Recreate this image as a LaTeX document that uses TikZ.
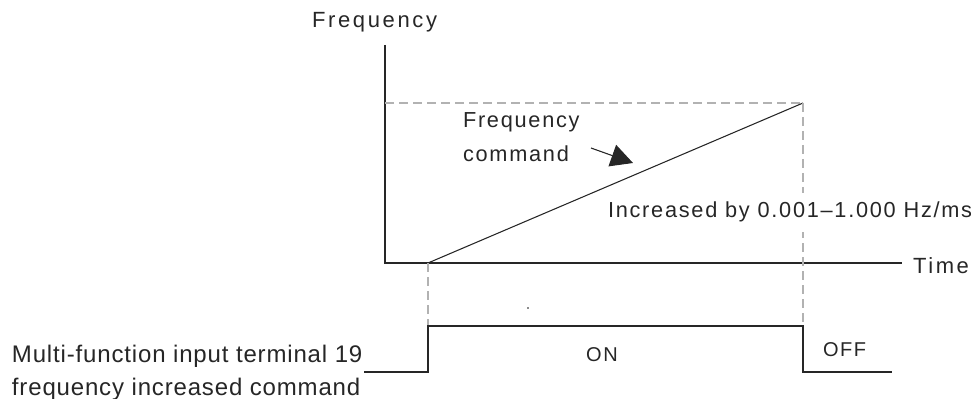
\documentclass[tikz,border=0pt]{standalone}
\usepackage{fontspec}
\setmainfont{Liberation Sans}
\newfontfamily\axisfont{Liberation Sans}[LetterSpace=12]
\newfontfamily\notefont{Liberation Sans}[LetterSpace=8]
\newfontfamily\sigfont{Liberation Sans}[LetterSpace=3.5]
\usepackage{tikz}
\usetikzlibrary{calc}
\usetikzlibrary{arrows.meta}
\usetikzlibrary{positioning}

\begin{document}
\begin{tikzpicture}[x=0.75pt,y=-0.75pt]
    \tikzstyle{every node}=[inner sep=0pt,outer sep=0pt,text=black!85]
    \tikzstyle{axis}=[line width=2pt,line join=miter,draw=black!85]
    \tikzstyle{guide}=[draw=black!30,line width=0.8pt,dash pattern=on 7pt off 3.5pt]
    \tikzstyle{sig}=[line width=0.9pt,draw=black!85]

   \useasboundingbox (0,0) rectangle (971,399);

   % axes
   \coordinate (o) at (385,263);
   \coordinate (ytop) at (385,45);
   \coordinate (xend) at (902,263);
   \draw[axis] (ytop) -- (o) -- (xend);

   \node[font=\axisfont\fontsize{16.5}{20}\selectfont,anchor=base west] (flab) at (312,28) {Frequency};
   \node[font=\axisfont\fontsize{16.5}{20}\selectfont,anchor=base west] (tlab) at (913,273) {Time};

   % ramp of the frequency command
   \coordinate (t1) at (428,263);
   \coordinate (t2) at (803,103);
   \coordinate (fmax) at (385,103);
   \draw[guide] (fmax) -- (t2);
   \draw[line width=0.8pt,draw=black!85] (t1) -- (t2);

   \node[font=\notefont\fontsize{16.3}{25}\selectfont,align=left,anchor=north west] (cmd) at (463,113) {Frequency\\command};
   \coordinate (atail) at (591,148);
   \coordinate (ahead) at (633,163);
   \draw[-{Triangle[length=16.5pt,width=17pt]},line width=0.8pt,draw=black!85,fill=black!85] (atail) -- (ahead);

   % terminal signal
   \coordinate (lo1) at (364,372);
   \coordinate (hi1) at (428,326);
   \coordinate (hi2) at (803,326);
   \coordinate (lo2) at (892,372);
   \draw[guide] (t1) -- (hi1);
   \draw[guide] (t2) -- (hi2);
   \draw[sig] (lo1) -| (hi1) -- (hi2) |- (lo2);
   \fill[black!45] (527,307) rectangle (529,309);

   \node[font=\notefont\fontsize{16.3}{18}\selectfont,fill=white,inner ysep=7pt,anchor=base west] (rate) at (608,218) {Increased by 0.001–1.000 Hz/ms};

   \node[font=\notefont\fontsize{15}{18}\selectfont,anchor=base] (on) at (602,361) {ON};
   \node[font=\notefont\fontsize{15}{18}\selectfont,anchor=base west] (off) at (823,356) {OFF};
   \node[font=\sigfont\fontsize{18}{24.5}\selectfont,align=left,anchor=north west] (term) at (12,345)
     {Multi-function input terminal 19\\frequency increased command};

  \end{tikzpicture}
\end{document}
